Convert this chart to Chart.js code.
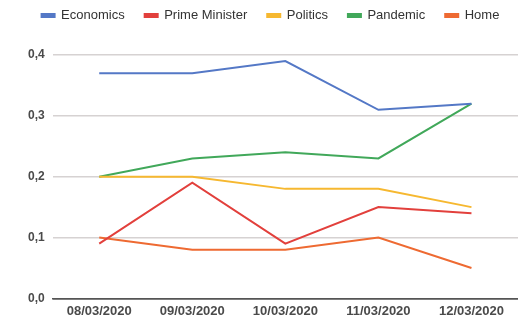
<!DOCTYPE html>
<html>
<head>
<meta charset="utf-8">
<script src="https://cdn.jsdelivr.net/npm/chart.js@4/dist/chart.umd.min.js"></script>
<style>
  html, body { margin: 0; padding: 0; background: #ffffff; }
  #wrap { width: 518px; height: 325px; }
</style>
</head>
<body>
<div id="wrap"><canvas id="chart" width="518" height="325"></canvas></div>
<script>
// ---- data ----
const dates = ["08/03/2020", "09/03/2020", "10/03/2020", "11/03/2020", "12/03/2020"];
const economics = [0.37, 0.37, 0.39, 0.31, 0.32];
const primeMinister = [0.09, 0.19, 0.09, 0.15, 0.14];
const politics = [0.20, 0.20, 0.18, 0.18, 0.15];
const pandemic = [0.20, 0.23, 0.24, 0.23, 0.32];
const home = [0.10, 0.08, 0.08, 0.10, 0.05];
const yTicks = [0, 0.1, 0.2, 0.3, 0.4];

// one colour per topic
const COLORS = {
  economics: "#5478c6",
  primeMinister: "#e2403c",
  politics: "#f6b830",
  pandemic: "#41a85a",
  home: "#ee6a32",
};

const FONT = "Liberation Sans, Arial, sans-serif";

function series(label, values, color) {
  return {
    label: label,
    data: values,
    borderColor: color,
    backgroundColor: color,
    borderWidth: 2,
    pointRadius: 0,
    tension: 0,
  };
}

// the legend keeps its wide item spacing but sits close to the top edge
const legendLift = {
  id: "legendLift",
  afterLayout(chart) {
    const lg = chart.legend;
    if (lg) {
      lg.top -= 23;
      lg.bottom -= 23;
    }
  },
};

const ctx = document.getElementById("chart");
new Chart(ctx, {
  type: "line",
  data: {
    labels: dates,
    datasets: [
      series("Economics", economics, COLORS.economics),
      series("Prime Minister", primeMinister, COLORS.primeMinister),
      series("Politics", politics, COLORS.politics),
      series("Pandemic", pandemic, COLORS.pandemic),
      series("Home", home, COLORS.home),
    ],
  },
  plugins: [legendLift],
  options: {
    responsive: false,
    animation: false,
    layout: { padding: { left: 20, right: -3, top: 12, bottom: 1 } },
    plugins: {
      tooltip: { enabled: false },
      legend: {
        position: "top",
        align: "center",
        labels: {
          boxWidth: 13,
          boxHeight: 3,
          padding: 20,
          color: "#333333",
          font: { family: FONT, size: 13 },
        },
      },
    },
    scales: {
      x: {
        offset: true,
        grid: { display: false, drawTicks: false },
        border: { color: "#555555", width: 1.5 },
        ticks: {
          padding: 5,
          color: "#4a4a4a",
          maxRotation: 0,
          font: { family: FONT, size: 13, weight: "bold" },
        },
      },
      y: {
        min: 0,
        max: 0.4,
        afterBuildTicks: (axis) => {
          axis.ticks = yTicks.map((v) => ({ value: v }));
        },
        grid: {
          color: (c) => (c.tick && c.tick.value === 0 ? "#555555" : "#d6d2d2"),
          lineWidth: 1.5,
          drawTicks: false,
        },
        border: { display: false },
        ticks: {
          padding: 8,
          color: "#4a4a4a",
          font: { family: FONT, size: 12, weight: "bold" },
          callback: (v) => Number(v).toFixed(1).replace(".", ","),
        },
      },
    },
  },
});
</script>
</body>
</html>
